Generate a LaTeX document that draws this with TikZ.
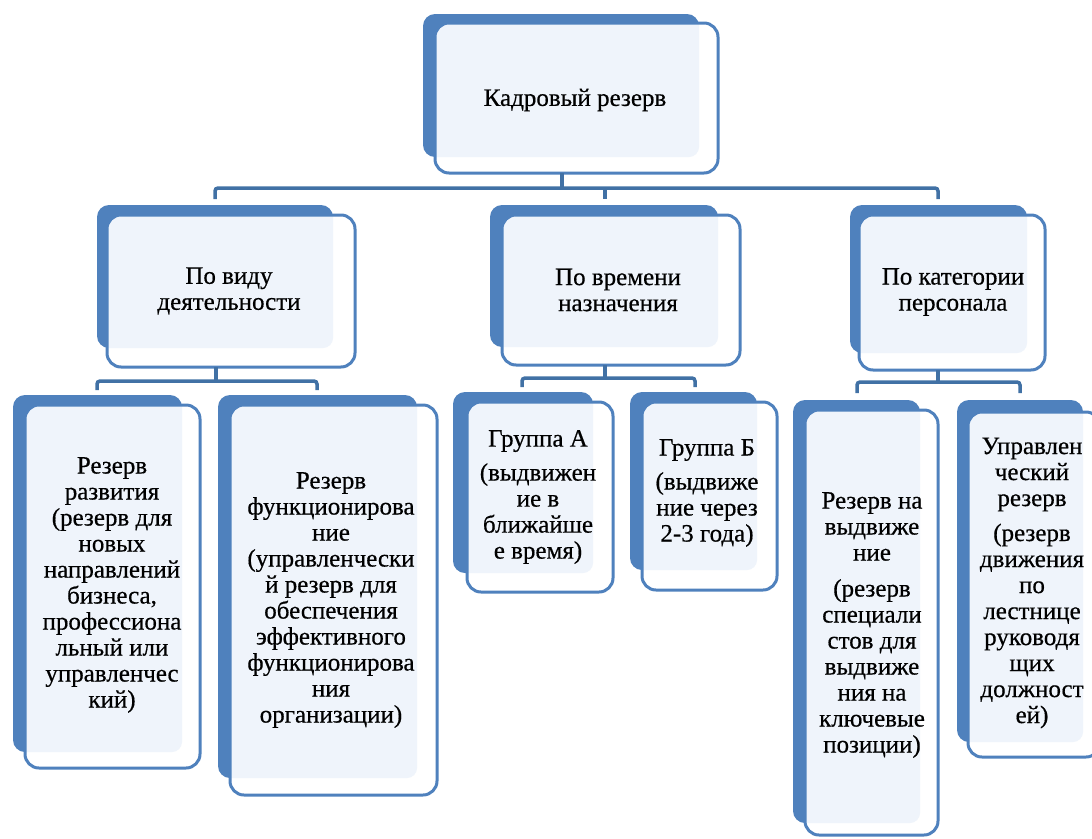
\documentclass[tikz,border=0pt]{standalone}
\usepackage{fontspec}
\setmainfont{Liberation Serif}
\newfontfamily\kfont[FakeBold=0.5]{Liberation Serif}
\usetikzlibrary{fit}
\definecolor{kblue}{RGB}{79,129,189}
\definecolor{kline}{RGB}{65,113,165}
\definecolor{klight}{RGB}{239,244,251}
\newcommand\kbox[9]{%
  \fill[kblue,rounded corners=12pt] (#2,#3) rectangle (#4,#5);
  \fill[white,rounded corners=14pt] (#6,#7) rectangle (#8,#9);
  \begin{scope}
    \clip[rounded corners=14pt] (#6,#7) rectangle (#8,#9);
    \fill[klight,rounded corners=10pt] (#2,#3) rectangle (#4,#5);
  \end{scope}
  \draw[kblue,line width=3pt,rounded corners=14pt] (#6,#7) rectangle (#8,#9);
  \node[fit={(#6,#7) (#8,#9)},inner sep=0pt] (#1) {};
}
\begin{document}
\begin{tikzpicture}[x=1pt,y=-1pt,
  txt/.style={align=center,font=\kfont\fontsize{25}{26}\selectfont,inner sep=0pt},
  conn/.style={draw=kline,line width=3.5pt,rounded corners=3pt}]
\useasboundingbox (0,0) rectangle (1092,838);
% boxes
\kbox{top}{423}{14}{699}{157}{435}{23}{718}{173}
\kbox{m1}{97}{205}{333}{348}{107}{215}{355}{367}
\kbox{m2}{490}{205}{718}{347}{502}{215}{740}{365}
\kbox{m3}{850}{205}{1027}{353}{859}{215}{1045}{370}
\kbox{b1}{13}{395}{182}{752}{25}{405}{200}{768}
\kbox{b2}{218}{395}{417}{778}{230}{405}{437}{795}
\kbox{ga}{453}{392}{593}{573}{467}{402}{613}{592}
\kbox{gb}{630}{392}{757}{570}{642}{402}{777}{590}
\kbox{r1}{793}{400}{920}{823}{805}{410}{938}{835}
\kbox{r2}{957}{400}{1083}{742}{968}{412}{1100}{757}
% texts
\node[txt] (t-top) at (575,100) {Кадровый резерв};
\node[txt] (t-m1) at (229,291) {По виду\\деятельности};
\node[txt] (t-m2) at (618,290) {По времени\\назначения};
\node[txt] (t-m3) at (953,292) {По категории\\персонала};
\node[txt] (t-b1) at (112,585) {Резерв\\развития\\(резерв для\\новых\\направлений\\бизнеса,\\профессиона\\льный или\\управленчес\\кий)};
\node[txt] (t-b2) at (331,600) {Резерв\\функционирова\\ние\\(управленчески\\й резерв для\\обеспечения\\эффективного\\функционирова\\ния\\организации)};
\node[txt] (t-ga) at (538,497) {Группа А\\[8pt](выдвижен\\ие в\\ближайше\\е время)};
\node[txt] (t-gb) at (707,493) {Группа Б\\[8pt](выдвиже\\ние через\\2-3 года)};
\node[txt] (t-r1) at (872,625) {Резерв на\\выдвиже\\ние\\[10pt](резерв\\специали\\стов для\\выдвиже\\ния на\\ключевые\\позиции)};
\node[txt] (t-r2) at (1032,583) {Управлен\\ческий\\резерв\\[9pt](резерв\\движения\\по\\лестнице\\руководя\\щих\\должност\\ей)};
% connectors level 1
\coordinate (jt) at (562,188);
\coordinate (s1) at (215,199);
\coordinate (s2) at (605,199);
\coordinate (s3) at (938,199);
\draw[conn] (jt |- top.south) -- (jt);
\draw[conn] (s1) |- (jt) -| (s3);
\draw[conn] (s2 |- jt) -- (s2);
% connectors level 2
\coordinate (k1) at (216,381);
\coordinate (a1l) at (97,390);
\coordinate (a1r) at (317,390);
\draw[conn] (k1 |- m1.south) -- (k1);
\draw[conn] (a1l) |- (k1) -| (a1r);
\coordinate (k2) at (605,378);
\coordinate (a2l) at (522,387);
\coordinate (a2r) at (695,387);
\draw[conn] (k2 |- m2.south) -- (k2);
\draw[conn] (a2l) |- (k2) -| (a2r);
\coordinate (k3) at (938,382);
\coordinate (a3l) at (857,393);
\coordinate (a3r) at (1020,393);
\draw[conn] (k3 |- m3.south) -- (k3);
\draw[conn] (a3l) |- (k3) -| (a3r);
\end{tikzpicture}
\end{document}
